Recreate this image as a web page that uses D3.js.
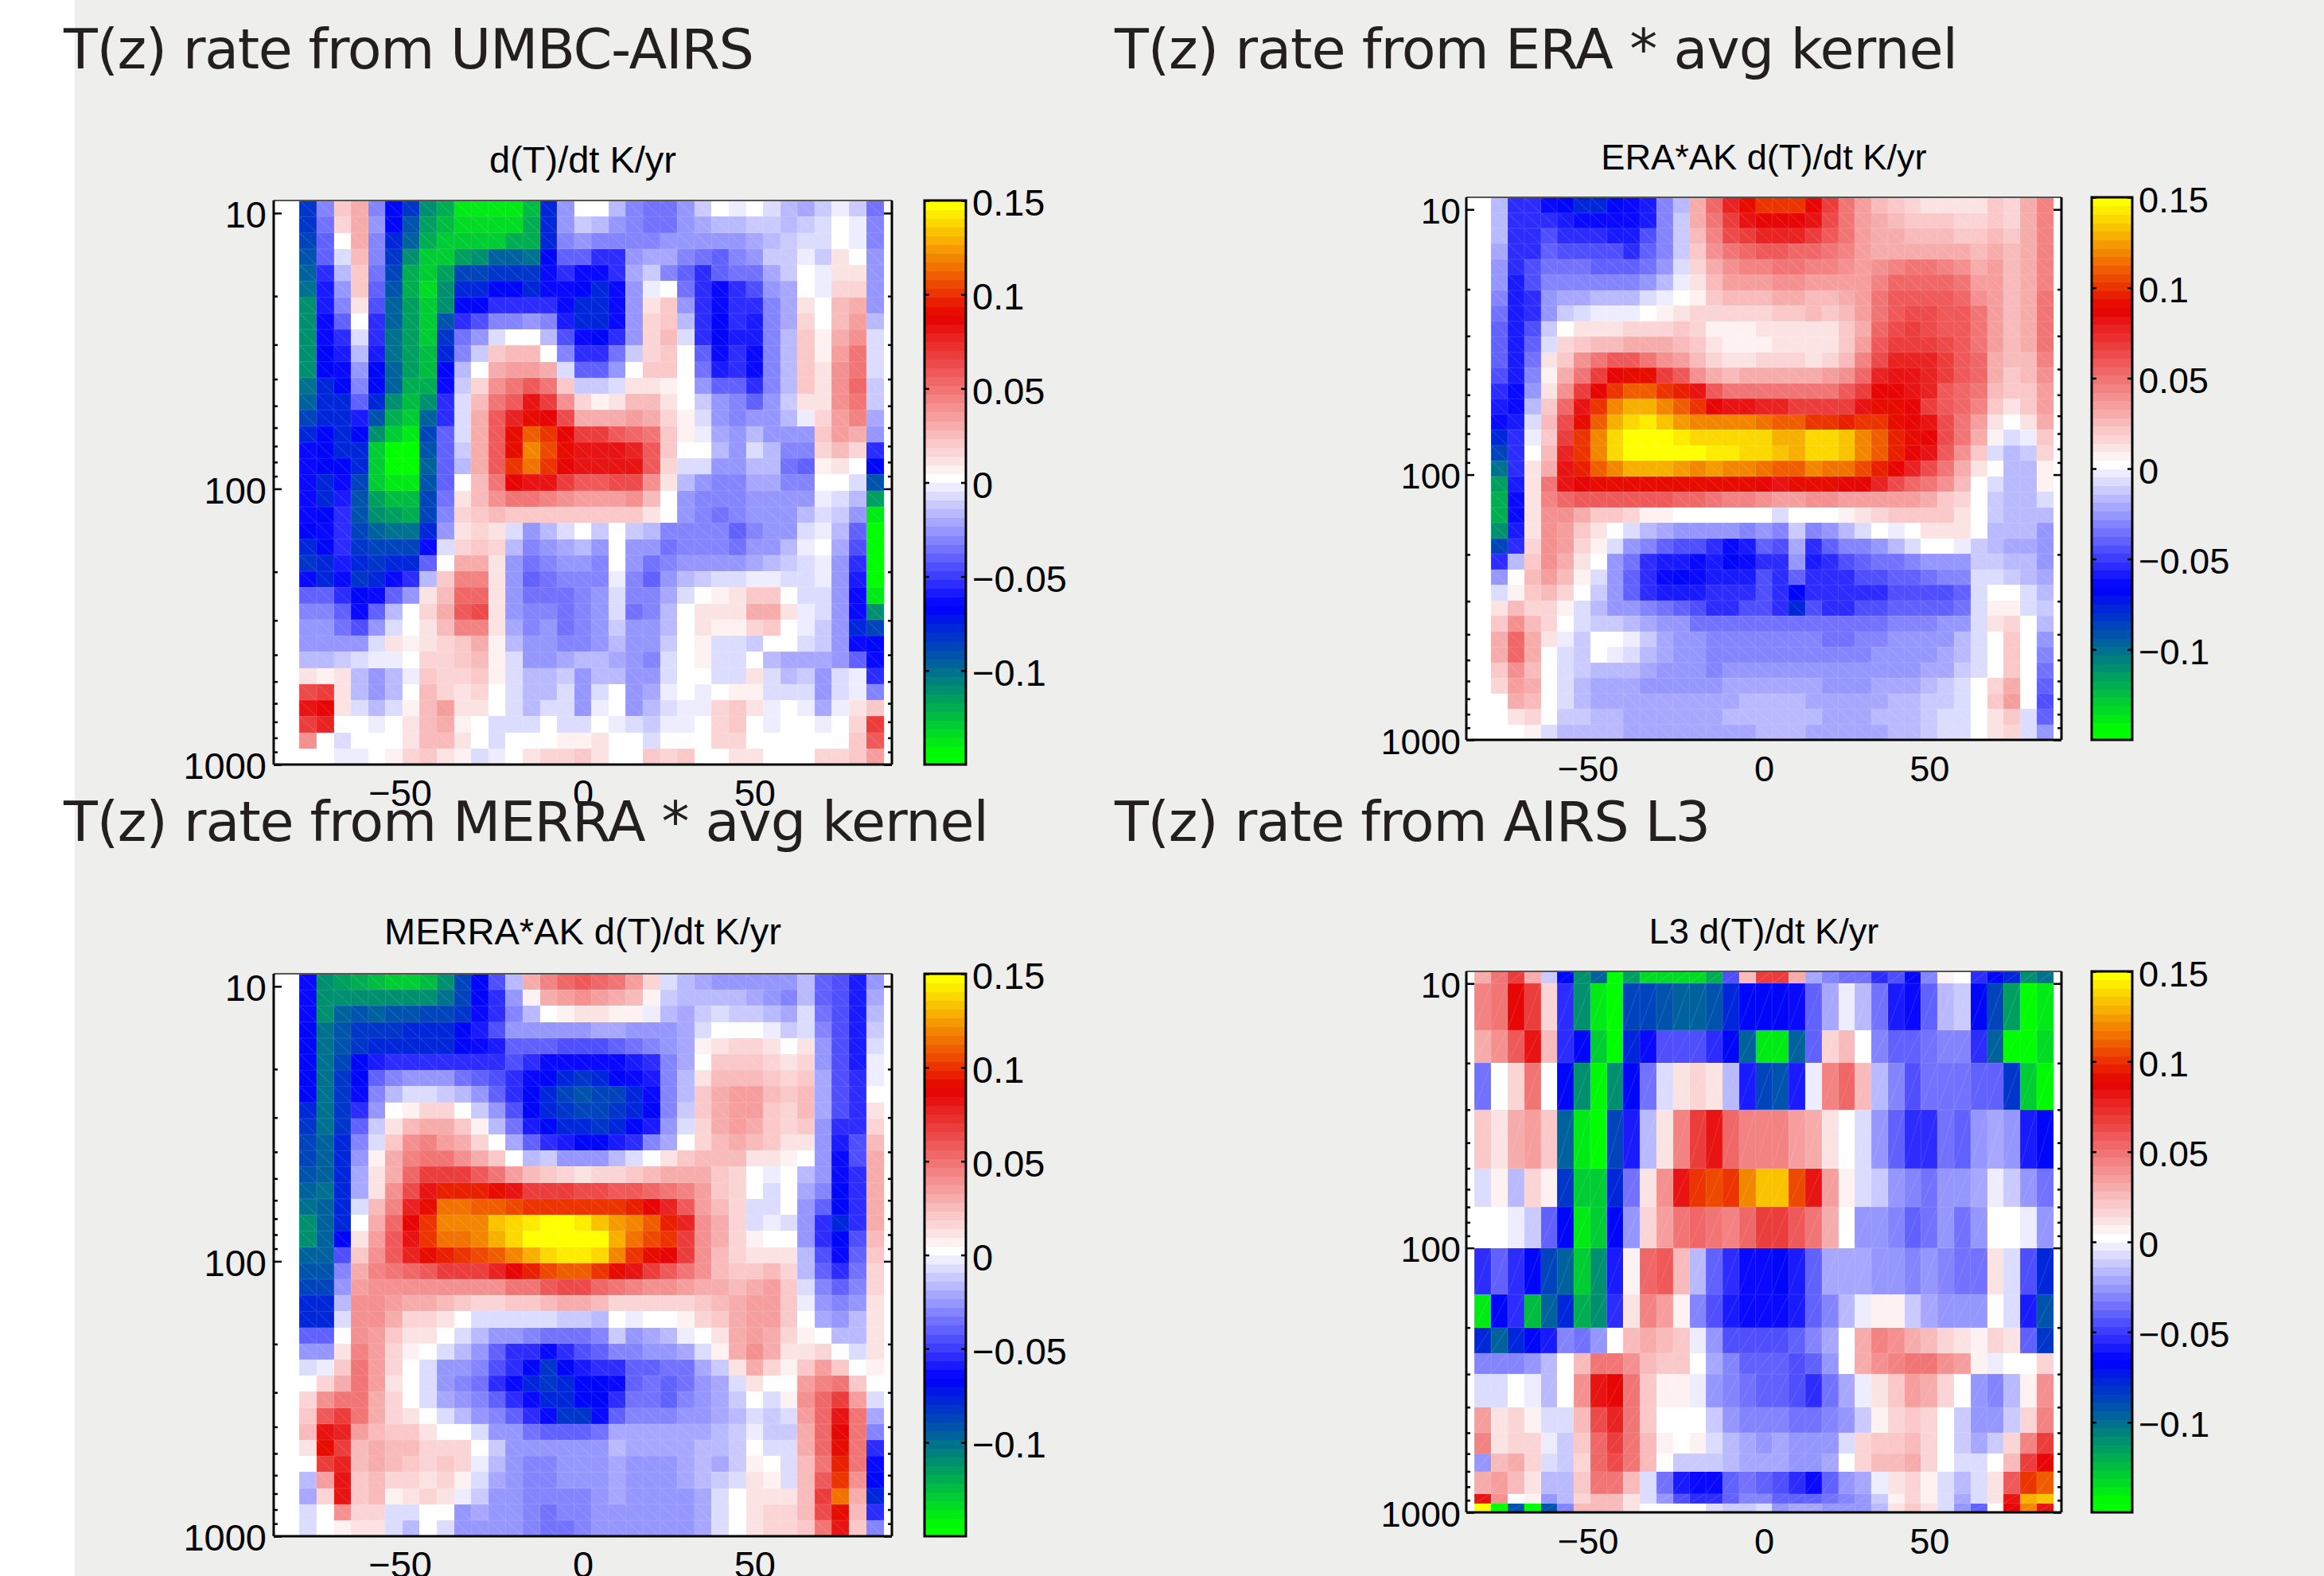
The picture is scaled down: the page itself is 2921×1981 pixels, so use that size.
<!DOCTYPE html>
<html><head><meta charset="utf-8">
<script src="https://cdn.jsdelivr.net/npm/d3@7/dist/d3.min.js"></script>
<style>html,body{margin:0;padding:0;background:#fff}svg{display:block}</style>
</head><body><svg id="c" width="2921" height="1981"></svg>
<script>
// All rates are in units of 0.01 K/yr. Rows run top (low pressure) to bottom.
const pressureEdges = [9,10.3,11.78,13.48,15.42,17.64,20.19,23.1,26.42,30.23,34.59,39.57,45.28,51.8,59.27,67.81,77.59,88.77,101.56,116.2,132.9,152.1,174,199.1,227.8,260.7,298.2,341.2,390.4,446.6,511,584.6,668.9,765.3,875.6,1000];
const pressureEdgesL3 = [9,10,15,20,30,50,70,100,150,200,250,300,400,500,600,700,850,925,1000];
const latEdges34 = [-82.5,-77.5,-72.5,-67.5,-62.5,-57.5,-52.5,-47.5,-42.5,-37.5,-32.5,-27.5,-22.5,-17.5,-12.5,-7.5,-2.5,2.5,7.5,12.5,17.5,22.5,27.5,32.5,37.5,42.5,47.5,52.5,57.5,62.5,67.5,72.5,77.5,82.5,87.5];
const latEdges35 = [-87.5].concat(latEdges34);
const xTicks = [-50,0,50];
const pMajor = [10,100,1000];
const pMinor = [20,30,40,50,60,70,80,90,200,300,400,500,600,700,800,900];
const barTicks = [-0.1,-0.05,0,0.05,0.1,0.15];
const barLabels = ["\u22120.1","\u22120.05","0","0.05","0.1","0.15"];

const umbcAirs = [
[-8.5,-4,2,3,-4,-7.5,-8.5,-11,-12,-14,-14,-14,-14,-12.5,-8,-3,0,0,-2,-4,-4.5,-4.5,-3,-1.5,0,-.5,0,-1,-2,-2.5,-1.5,-.5,-1.5,-4.5],
[-8.5,-4.5,1.5,3,-3.5,-7.5,-9.5,-11.5,-12.5,-13.5,-13.5,-13.5,-13.5,-12,-8,-3.5,-1.5,-2,-3,-4,-4.5,-4.5,-3.5,-2.5,-2,-2,-1.5,-1.5,-2,-1.5,-1,0,-.5,-4],
[-9,-5,0,3,-4,-8,-10,-12,-13,-13,-13,-13,-12,-12,-8,-4,-3,-4,-4,-4,-4,-3.5,-3.5,-3,-3.5,-3,-2.5,-2,-1.5,-1,-1,0,-.5,-4],
[-9.5,-5,-1,2.5,-4,-8.5,-11,-13,-13,-11.5,-11,-10,-10,-10.5,-7.5,-5,-5,-6,-6,-3,-2.5,-2.5,-4,-4.5,-5,-4,-3.5,-1.5,-1.5,-.5,-1.5,1,0,-3.5],
[-10,-6,-2,2,-4.5,-9,-12,-13,-11.5,-9,-9,-8.5,-8.5,-8.5,-7,-6,-7,-7,-6,-2.5,-1.5,-4,-5,-6,-5,-4.5,-4.5,-2.5,-1.5,0,-.5,1,1,-3.5],
[-10.5,-6.5,-3,2,-5,-9.5,-12,-13.5,-11,-8,-8,-7.5,-7.5,-8,-7,-7,-7.5,-8,-7,-3,-.5,0,-4.5,-6,-7,-6,-5.5,-3,-2.5,0,-.5,1.5,1.5,-3],
[-11,-6.5,-4,1,-5.5,-10,-11.5,-13,-11,-7.5,-7.5,-6,-6,-6,-6,-7,-8,-8,-7,-3.5,1,2,-3.5,-6,-7,-6,-6,-4,-2.5,1,0,2.5,3,-3],
[-11,-7,-5,0,-6,-10,-11.5,-13,-9.5,-6,-5.5,-4,-4,-3.5,-4,-6.5,-8,-8,-7,-3.5,1.5,2,-2,-6,-7.5,-6,-6.5,-4,-2.5,1.5,0,2.5,3.5,-2],
[-11,-7,-6,-1,-6,-10.5,-11.5,-13,-8.5,-4.5,-3,-1,0,0,-2,-5.5,-7,-7.5,-6,-3,1.5,2.5,-1,-6,-7.5,-6.5,-6.5,-4,-2,2,.5,3,4,-1],
[-11,-7.5,-6.5,-2,-6.5,-10.5,-11.5,-12.5,-8,-4,-1.5,2,2.5,2.5,0,-4,-6,-6,-4.5,-1.5,1.5,2,0,-5,-7,-6,-7,-4,-2,2,.5,3.5,5,-1],
[-11,-7.5,-7,-3,-7.5,-10,-11.5,-12.5,-7.5,-2,0,3,3.5,3.5,3,-1,-5,-5,-3,0,2,2,0,-4.5,-6.5,-6,-7,-4,-2,2,1,4,5,-1],
[-10.5,-8,-7.5,-4,-7.5,-10,-12,-12,-7,-1.5,1.5,4,5,6,5,2,-1.5,-1.5,-1,1,1,.5,0,-3,-5,-5,-6,-4,-2,2,1,4,5.5,-1.5],
[-10,-8,-8,-5,-8,-11,-12.5,-11,-6,-1,2.5,5,6,8,7,4,1.5,.5,1,2.5,2.5,1,0,-1.5,-3,-4,-5,-3.5,-1.5,1,1,4,5,-1.5],
[-9,-8,-8,-6.5,-9.5,-12,-13,-10,-6,-1,3,6,7.5,9,8.5,6.5,3,3,3,3.5,3,1.5,.5,-1,-3,-4,-3,-3,-2,-.5,1.5,3.5,4.5,-2.5],
[-8,-7.5,-8,-7.5,-11,-13,-14,-9,-5,-1,3,6,9,11,10,8.5,7,7,6,5.5,5,2,.5,-.5,-2.5,-3,-2,-3,-3,-3,2,3.5,3,-3],
[-7,-7.5,-8,-8,-13,-15,-15,-9.5,-5,-1.5,3,6,9,12,10.5,9,8,8,8,7.5,6,2,0,0,-2,-3,-1,-2,-4,-4,1.5,2.5,1.5,-6],
[-7,-7.5,-7.5,-8,-13,-15,-15,-10,-5,-2,3,6,10,11.5,10,8.5,8,8,8,8,6,1.5,-1,-1,-3,-3.5,-2,-2,-4.5,-5,.5,1,0,-7.5],
[-7,-8,-7,-9,-13,-14,-14,-9.5,-5,0,2.5,5,8.5,8,8,7,6,6,6.5,6.5,4,1,-2,-3,-4,-4,-2.5,-2.5,-4,-4,0,0,-1,-9.5],
[-7,-8,-6.5,-9.5,-11.5,-12.5,-12.5,-9,-4.5,1,2.5,4,5,5,4.5,4,3.5,3.5,3.5,4,2.5,0,-3,-4,-4,-4,-3,-3,-3,-3,-.5,-1,-2,-11.5],
[-7,-7.5,-6,-9.5,-11,-11.5,-12,-9,-4,1.5,2,2.5,2,2,2,2,2,2,2,2,1,0,-3.5,-4,-4.5,-4,-3.5,-3,-3,-2,-1,-1.5,-3.5,-14],
[-7.5,-7,-6,-9,-10,-10.5,-10.5,-8,-3,1,1.5,1,-1,-3,-2,-1,0,-1.5,0,-1.5,-2,-4,-4,-4,-4,-5,-4,-3,-3,-1,-.5,-2,-5,-15],
[-8,-7.5,-6,-8.5,-9,-9,-9,-7,-1,1.5,2,1.5,-2,-4,-3,-2.5,-2,-3,0,-3,-3.5,-4.5,-4,-4,-4,-4.5,-3.5,-3,-2,-.5,0,-2.5,-5.5,-15],
[-8.5,-8,-6.5,-8,-8.5,-8,-8,-5,0,3,3,1,-3,-4.5,-4,-3.5,-3.5,-4,0,-3.5,-4.5,-4,-3.5,-3,-3,-3,-2.5,-2,-1.5,-1,-.5,-3,-6,-15],
[-7,-8,-7,-8.5,-8,-7,-6,-2,2,4.5,4.5,1,-3,-5,-4.5,-4,-4,-4,-.5,-4,-5,-3,-2,-1.5,-1,-1,-.5,-.5,-1,-1,-.5,-3.5,-6.5,-15],
[-5,-5,-6,-7.5,-7,-5,-3,1,2.5,5.5,5.5,1,-3,-4.5,-4.5,-4.5,-4,-3.5,-1,-4,-4,-2.5,-1,0,.5,1,2,2,0,-1,-1,-3.5,-7,-14],
[-4,-4,-5,-7,-5,-2,0,1.5,3,6,6.5,1,-3,-4,-4,-4.5,-4,-3.5,-1,-4.5,-4,-2,0,1,1,1,3,3,1,-.5,-1,-3.5,-7,-11],
[-3.5,-3.5,-4.5,-5.5,-3,-1,0,1,2.5,4.5,4.5,1,-2.5,-4,-3.5,-4.5,-4,-3,-1.5,-3.5,-3,-2,0,1,.5,.5,1.5,2,0,-.5,-1.5,-3.5,-8,-9],
[-3,-3,-3,-3.5,-1,1,.5,1,1.5,2,3,.5,-2,-3.5,-3,-4,-4,-3,-2,-3.5,-3,-1.5,0,.5,-1,-1,-1.5,0,0,-1,-1.5,-3,-7,-7.5],
[-2,-2,-1.5,-1,-.5,-.5,0,1.5,1.5,2,2.5,.5,-1,-3,-3,-2.5,-2,-2,-2.5,-3,-4,-1,0,.5,-1,-1,0,-2,-2.5,-2.5,-2.5,-3,-5,-7],
[1,.5,1,-2,-3,-2,-.5,2,1.5,1.5,2,.5,-1,-2,-2,-1.5,-3.5,-2,-2,-3,-3,-1,0,0,-1,-1,1,-1,-2,-1.5,-3.5,-1,-.5,-6],
[6.5,7,1,-2,-3.5,-2,0,2.5,1.5,1,1.5,0,-1,-2,-2,-1,-3,-1,0,-3,-2.5,-.5,0,-.5,0,.5,.5,-1,-1,-1,-3.5,-1,-.5,-4],
[8,8.5,1,-1,-2,-1,.5,2.5,3.5,1,1,0,-1,-2,-1,-1,-3,-.5,0,-3,-2,-1,-.5,-.5,1.5,2,1,-.5,0,-.5,-2.5,-.5,1,2],
[7,7.5,0,0,-.5,0,1,2.5,3,.5,0,-1,-1,-1,0,-1,-1,0,-.5,-1,-1.5,-.5,-.5,0,1.5,2,0,-.5,0,0,-.5,0,1.5,7],
[4,0,-1,0,0,0,1,2.5,2.5,1,0,-1,0,0,0,.5,.5,1,0,0,-1,0,0,0,1.5,1.5,0,0,0,0,0,0,2,6],
[0,0,-.5,-.5,0,.5,1.5,2,1,.5,-1,-.5,0,1,1.5,1.5,2,1,0,0,2,1.5,2,0,0,1,1,0,0,0,1.5,1.5,2,3.5]
];

const eraAk = [
[-2,-6,-6,-7,-7.5,-8,-8,-7.5,-7,-6.5,-4,-2,3,5.5,7.5,9,10,10,10,8.5,7,5,3.5,2.5,2,1.5,1,1,1,1,2,1.5,3,4.5],
[-2,-6,-6,-6,-6.5,-7,-7,-7,-7,-6.5,-4,-1.5,3,5,7,8,8.5,8.5,8.5,8,6.5,5,3.5,3,2.5,2,2,2,1.5,1.5,2,1.5,3,4.5],
[-2,-6,-6,-5.5,-6,-6,-6,-6.5,-6.5,-5.5,-4,-1.5,2.5,4.5,6.5,7,7.5,7.5,7.5,7,6,5,3.5,3,3,2.5,2.5,2.5,2,2,2.5,2,3,4.5],
[-2.5,-6,-6,-5,-5.5,-5.5,-5.5,-5.5,-6,-5,-4,-1.5,2,4,5,5.5,6,6,5.5,5.5,5,4.5,3.5,3,3,3,3,3,3,2.5,3,2.5,3,4.5],
[-3,-6,-5.5,-4.5,-4.5,-4.5,-5,-5,-5,-4.5,-3.5,-1,1.5,3,4,4.5,4.5,5,5,4.5,4.5,4,3.5,4,4.5,5,5,4.5,4,3,3.5,2.5,3,4.5],
[-3.5,-6.5,-5.5,-4,-4,-4,-4,-4,-4,-3,-2,-.5,1,2.5,3.5,3.5,3.5,4,4,3.5,3.5,3.5,3.5,4.5,5.5,5.5,5.5,5.5,5,3.5,3.5,2.5,3,4.5],
[-4,-6.5,-6,-3,-2.5,-2.5,-2,-2,-2,-1,-.5,0,.5,2,2.5,2.5,2.5,3,3,2.5,2.5,3,3.5,5,6,6,6,6,5.5,4,3.5,2.5,3,5],
[-4.5,-6.5,-6,-3,-1.5,-1,-.5,-.5,-.5,0,.5,1,1.5,1.5,1.5,1.5,1.5,2,2,2.5,2,2.5,3.5,5,6,6.5,6.5,6,6,5,3.5,2.5,3,5],
[-5,-6.5,-5.5,-1.5,0,1,1,1,1.5,1.5,1.5,2,1.5,.5,.5,.5,1,1,1,1,1,2,3,5.5,6.5,7,6.5,6,6,5,3.5,2.5,3,5],
[-5,-6.5,-5,-1,1.5,2,2.5,2.5,3,3,3,2.5,2,1,.5,.5,.5,1,1,1,1,2,3.5,6,7,7,7,6.5,6,5,3.5,2.5,3,5],
[-5,-6.5,-4.5,1,2,4,5,6,6,5,4,3.5,2.5,1.5,1,1,1.5,1.5,1.5,1,1.5,2.5,4.5,6.5,7.5,7.5,7.5,7,6,5.5,3,2.5,2.5,4.5],
[-5.5,-6.5,-4,.5,3,5,7,8.5,9,9,7,6,4,3,2.5,3,3,3,3,3,3.5,4,5.5,7.5,8,8,7.5,7,6,5.5,3,2,2.5,4],
[-6,-7,-3,1,4,7,8.5,10,11,11,10,9.5,8,6,5,5,5,5,5,5,5,6,7,8.5,8.5,8,7.5,6,5.5,5,2.5,2,2,3.5],
[-6.5,-7,-2,2,5.5,8,10,12,13,13,12,11,10,8.5,8,8,7.5,7.5,7,7,7,7,8,9,9,8.5,7,6,5.5,4.5,2,1,2,3.5],
[-7,-6.5,-1,2.5,6.5,9,11,13,14,14.5,13.5,12.5,12,12,12,12,11.5,11,11,10,10,9.5,10,10,9,8.5,8,6.5,5,3.5,1,0,1,3],
[-8,-6,-.5,2,7,10,12,14,15,15,15,14.5,14,14,14,14,14,13,13,14,14,13.5,12,11,9.5,9,8.5,6.5,5,3,.5,-1,-.5,2],
[-9,-6,0,2.5,7.5,10,12,14,15,15,15,15,15,14.5,14.5,14,14,13.5,13,14,14,13.5,12,11,9.5,8.5,8,6,4,2,-1,-2,-1.5,1.5],
[-10.5,-6,1,3,8,9.5,11,12,13,13,13,12.5,12,12.5,12,12,11.5,11,11,12,11.5,11.5,10.5,9.5,8.5,7.5,6.5,5,3,1,0,-2,-2,.5],
[-11.5,-6.5,1,5,8,8.5,9,9,9,9,9,9,9,9,9,9,8.5,8,9,9,9,8.5,8.5,7.5,6.5,5.5,5,4,2.5,0,-1,-2,-2,.5],
[-12,-7,1,4.5,5.5,6,6,6,6,6,6,5.5,5.5,5,4.5,4.5,4,3.5,3.5,4,4,3.5,3.5,3.5,3.5,3.5,3,2,1.5,0,-1.5,-2,-2,-1],
[-12,-7,1,4,4,3,2,2,1.5,.5,.5,0,0,0,0,0,0,-1,0,0,0,.5,1,1.5,2,2,2,2,1,0,-1.5,-2,-2,-2],
[-11,-6.5,1,4,3.5,2,1,0,-1,-2,-2.5,-3,-3.5,-3.5,-3.5,-4,-3.5,-4,-1.5,-4,-3,-2,-1,0,-.5,0,1,1,1,0,-2,-2,-2,-3],
[-9,-6,1.5,4,3.5,1.5,.5,-1,-3,-4,-5,-5.5,-5.5,-6,-7,-6.5,-5,-5.5,-2.5,-6,-5,-4,-4,-3,-2,-1,0,0,-.5,-1.5,-2,-2.5,-2.5,-3.5],
[-6,-2,2,4,3,1,0,-3,-4.5,-6,-6.5,-6.5,-7,-6.5,-7.5,-7,-6,-6,-3,-6.5,-6,-5.5,-5,-4.5,-4.5,-4,-3.5,-3,-3,-1.5,-1.5,-2,-2,-3],
[-3.5,0,2.5,3.5,2.5,.5,-1,-3.5,-5,-6,-7,-7.5,-7,-6.5,-6.5,-6.5,-5.5,-6,-5,-6,-6,-6,-5.5,-5.5,-5,-5,-4.5,-4,-4,-1,-1,-1.5,-2,-2.5],
[-1,.5,2,2.5,1.5,0,-1.5,-3.5,-5,-6,-6.5,-6.5,-6.5,-6,-6,-6,-5.5,-6,-7.5,-6,-6,-6,-6,-6,-5.5,-5.5,-5.5,-5.5,-5,-1,0,0,-1,-2],
[1,2.5,1.5,1.5,.5,-1,-2,-3,-3.5,-4,-4.5,-5,-5.5,-6,-6,-5.5,-5.5,-6,-8,-5.5,-6,-6,-5.5,-5.5,-5,-5,-5,-5,-4.5,-1,.5,.5,-1,-1.5],
[2,4,2.5,1.5,0,-1,-1.5,-1.5,-2,-2.5,-3,-3.5,-4.5,-4.5,-4.5,-4.5,-4.5,-4.5,-4.5,-4.5,-4.5,-4.5,-4.5,-4.5,-4,-4,-4,-3.5,-3,-1,1,1.5,0,-2],
[3,5.5,3,1,-.5,-1.5,0,0,-.5,-1.5,-2.5,-3,-3.5,-4,-4,-4,-4,-4,-4,-4,-4.5,-4.5,-4,-4,-3.5,-3.5,-3.5,-3,-2,-1,0,2,0,-3],
[3,5.5,3,0,-1,-1.5,0,-.5,-1,-2,-2.5,-3,-3.5,-4,-4,-4,-4,-4,-4,-4,-4,-4,-4,-3.5,-3.5,-3,-3,-2.5,-2,-1,0,2,0,-4],
[2,4,2.5,0,-1,-1.5,-2,-2,-2,-2.5,-3,-3,-3.5,-4,-3.5,-3,-3,-3,-3,-3.5,-3.5,-3.5,-3.5,-3.5,-3,-3,-2.5,-2.5,-1.5,-1,0,2,0,-4.5],
[1.5,3.5,3,0,-1,-2,-2.5,-2.5,-2.5,-3,-3,-3,-3,-3,-2.5,-2.5,-2.5,-2.5,-2.5,-2.5,-3,-3,-3,-2.5,-2.5,-2.5,-2,-1.5,-1,0,1.5,3,0,-5],
[0,3,2.5,0,-1,-2,-2.5,-2.5,-2.5,-2.5,-2.5,-2.5,-2.5,-2.5,-2.5,-2,-2,-2,-2,-2.5,-2.5,-2.5,-2.5,-2.5,-2,-2,-1.5,-1.5,-1,0,2,3.5,0,-5.5],
[0,1,1.5,0,-1.5,-1.5,-2,-2,-2.5,-2.5,-2.5,-2.5,-2.5,-2.5,-2,-2,-2,-2,-2,-2,-2.5,-2.5,-2.5,-2,-2,-2,-1.5,-1,-1,0,1,2,-1,-5],
[0,0,.5,-1,-2,-2,-2,-2,-2.5,-2.5,-2.5,-2.5,-2.5,-2.5,-2.5,-2.5,-2,-2,-2,-2.5,-2.5,-2.5,-2.5,-2.5,-2,-2,-1.5,-1,-1,0,1,1.5,-1,-3]
];

const merraAk = [
[-7,-11,-11.5,-12,-12.5,-13,-13,-12.5,-11,-9,-7.5,-5.5,-2,3,4.5,5.5,6,5.5,5,3.5,1.5,-1,-2,-2.5,-3,-3,-3.5,-3,-3,-2,-5,-5.5,-6.5,-3],
[-7,-11,-11,-11,-11,-11,-11,-11,-10.5,-9,-7.5,-6,-3,.5,3,3.5,4,3.5,3,2.5,.5,-1.5,-2,-2,-2,-2,-2.5,-3,-4,-2,-5,-5.5,-6.5,-2.5],
[-7,-11,-10,-9.5,-10,-9.5,-9.5,-9,-9,-8.5,-7,-6,-4,-2,0,.5,1,1,.5,.5,-.5,-2,-2.5,-1.5,-1,-1.5,-1.5,-2,-2.5,-1,-4.5,-5.5,-6.5,-2],
[-7.5,-10.5,-9.5,-8.5,-8.5,-8.5,-8,-8,-8,-7.5,-6.5,-5.5,-3.5,-3,-3,-3,-3,-2.5,-2.5,-3,-3.5,-3.5,-2.5,-1,0,0,0,-.5,-1.5,-1,-4,-5.5,-6.5,-1.5],
[-7.5,-10.5,-9.5,-8.5,-8,-8,-8,-8,-8,-7.5,-7,-6.5,-5,-5,-5,-5.5,-5.5,-5.5,-5,-4.5,-4,-3,-2.5,.5,1,1.5,1.5,1,0,1,-3.5,-5.5,-6.5,-1],
[-7.5,-10.5,-9,-7.5,-6.5,-6,-6,-6,-6,-6,-6,-6,-5.5,-6,-7,-7,-7,-7,-7,-6.5,-6,-4,-2.5,0,2,2,2,1.5,1,1.5,-3,-5.5,-6.5,-.5],
[-7.5,-10.5,-8.5,-7.5,-5,-4,-3.5,-3,-3.5,-4.5,-5,-5.5,-6,-7,-7.5,-8,-8.5,-8,-7.5,-7,-6.5,-4,-2,1,2.5,2.5,2.5,2,1.5,2,-2.5,-5.5,-6,-.5],
[-7.5,-10.5,-8.5,-7,-4,-2,-1,-1,-1.5,-2,-3,-5,-6,-7.5,-8,-9,-9.5,-9,-9,-8,-7,-4,-2,2,3,3.5,3.5,2.5,2,2.5,-2.5,-5.5,-6,0],
[-8,-10.5,-8.5,-6,-3,0,.5,1.5,1.5,0,-1.5,-3.5,-5.5,-7.5,-8,-8.5,-9,-9,-8.5,-8,-7.5,-4,-1.5,2,3,3.5,3.5,2,1.5,2.5,-2.5,-5.5,-6,1],
[-8.5,-10.5,-8.5,-5,-1.5,1,2.5,3,3,2,.5,-2,-4.5,-6.5,-7.5,-8,-8,-8.5,-8,-7.5,-6.5,-3.5,-1,1.5,3,3.5,3,2,1.5,2,-3,-6,-6,1.5],
[-9,-10,-8,-4,-1,2,4,4.5,3.5,3,1.5,0,-2.5,-5,-6,-6.5,-7.5,-7.5,-6.5,-6,-4,-2.5,0,1.5,2.5,3,2.5,2,1,1,-3,-6.5,-5.5,2.5],
[-9,-10,-8,-3.5,.5,3,4.5,5,5,4,3,2,0,-2,-1.5,-3,-3.5,-3,-2,-1,0,1,2,2.5,2.5,2.5,1,1,.5,0,-3,-7,-5.5,3],
[-9.5,-10,-8,-2.5,1,3,5.5,7,7,7,6,5,3.5,2.5,2,1.5,1,1.5,1.5,2,2.5,3,3,3,2,1.5,0,-.5,0,-2,-3.5,-7,-6,3],
[-10,-10.5,-8,-2.5,1,4,6.5,8,9.5,9.5,9.5,9,8,7,7,7,6.5,6.5,6,6,5.5,5,4.5,3.5,2,1.5,0,-1,0,-2.5,-4,-7.5,-6,3],
[-10.5,-10,-8,-1,2.5,4.5,7.5,9,11.5,11.5,11,11,10.5,10,10,10,10,10,10,9.5,8.5,7.5,6,3.5,2.5,1.5,-1,-1,0,-3,-5,-7.5,-6,3],
[-11,-10,-8,0,3,5.5,8.5,10,12,12,12,13.5,14,14.5,15,15,14.5,13.5,12.5,12,11,9.5,7.5,4,3,1.5,-1,-.5,-1,-3.5,-6,-8,-6,3],
[-11,-10,-7.5,1,3.5,6,8,10,11.5,11.5,12,13,14,15,15,15,15,15,13,11.5,10.5,10,7,4,3,1.5,.5,0,0,-3,-6,-7.5,-5.5,2.5],
[-10,-10,-5.5,2,4,6,7.5,9,9.5,10,10.5,11,12,13,14,14.5,14.5,14,12,10,9,8.5,7,4,2.5,1.5,1,1,1,-2,-5.5,-7,-5,2],
[-9.5,-9.5,-4,3,4.5,5,5.5,6,7,7,7,7.5,8.5,9.5,10.5,11,11,10,9,8,7,6,5,4,2.5,2,2,2.5,1.5,-2,-5,-6,-4.5,1.5],
[-9,-9,-3,3.5,4,4,4,4,4,4,4,4,5,5,6,6.5,6.5,5.5,5,4.5,4,4,3.5,3,3,2.5,3,3.5,2,-1,-4,-5,-4,1.5],
[-8,-8,-2,4,4,3.5,3,3,2.5,2,1.5,1.5,2,2,2.5,3,3,2.5,1.5,1.5,1.5,1.5,1.5,2,2.5,3,3.5,3.5,2,-.5,-3,-4,-3,1],
[-8,-8,-1,4,4,3,1.5,1.5,1,0,-1,-1,-1,-1,-1,-1.5,-1.5,-2,0,-.5,0,0,.5,1.5,2,3,3.5,3.5,2,0,-2.5,-3.5,-2,1],
[-5,-5,0,4,3.5,2,1,1,0,-1,-2,-3,-3.5,-4,-4.5,-4.5,-4.5,-4,-1.5,-3.5,-2.5,-2,-.5,0,1,3,3.5,3,1.5,.5,0,-2,-2,1],
[-3,-3,1,4.5,3.5,1.5,.5,0,-1,-2,-3,-5,-6,-6,-7,-6,-5.5,-5,-4,-4,-3.5,-3,-2.5,-1,.5,3,4,3,1,1,1.5,0,-1,1],
[-1,-.5,2,5,3.5,1.5,0,-1,-3,-3.5,-4,-5.5,-6,-7.5,-8.5,-7.5,-6.5,-6,-6,-5,-5,-4.5,-4.5,-2.5,-1.5,1,3,1.5,.5,2,3.5,2,0,.5],
[0,1.5,3,5,3.5,1,0,-1,-3.5,-4,-4.5,-6,-7,-8,-8.5,-8,-7.5,-7.5,-7,-5,-4.5,-5,-4.5,-3,-2.5,-1,1,0,0,3.5,4.5,5,2,0],
[1.5,4,5,5,3,1.5,0,-1,-2.5,-3.5,-4,-5,-6,-7,-8,-8,-7.5,-7.5,-6,-4.5,-4.5,-5,-4,-3,-2.5,-1.5,0,-1,.5,4,5.5,7,3.5,-1],
[2,6,7,5,3,1.5,1,0,-1,-2,-3,-4,-5,-6,-7,-8.5,-8.5,-7,-5,-4,-4,-4,-3.5,-3,-2.5,-2,-1,-1.5,-1,3.5,5.5,8,5,-2.5],
[2.5,8,7.5,3.5,2.5,2,2,1,0,0,-1,-3,-3.5,-4.5,-5,-5,-5,-4.5,-2.5,-2.5,-2.5,-2.5,-2.5,-2.5,-2,-1.5,-.5,-1.5,-1.5,3,5.5,8.5,5,-4],
[1,9,7,2.5,3,2.5,2.5,1.5,1.5,1.5,0,-1.5,-3,-3.5,-3.5,-3.5,-3.5,-3,-2,-2.5,-2.5,-2.5,-2.5,-2,-2,-1.5,0,-1,-1,3,5.5,9,5,-6],
[0,7,7.5,2.5,3,2.5,2,1.5,2,1.5,-.5,-2,-3,-4,-4,-3.5,-3.5,-3,-2.5,-3,-3,-3,-2.5,-2,-2.5,-1.5,.5,0,-1,2.5,5,9.5,5,-7],
[-2,3.5,8,2,2.5,1.5,1.5,1,1.5,.5,-1,-2.5,-3,-4,-4,-3.5,-3.5,-3,-2.5,-3,-3,-3,-2.5,-2,-1.5,-1,1,.5,-1,2.5,6,10,4,-7.5],
[-2.5,1.5,8,2,2.5,.5,1,1.5,1,-.5,-1.5,-3,-3,-4,-4,-4,-4,-3,-2.5,-3,-3,-3,-3,-2.5,-1,0,1,1,1,2.5,7,11.5,3,-8],
[-1,0,4,1.5,1.5,-1,-1,0,0,-3,-2.5,-3.5,-3.5,-4,-4.5,-4,-4,-3.5,-3,-3,-3.5,-3,-3,-2.5,-1,0,1,1.5,1.5,2.5,6.5,9,2.5,-6],
[-1,0,.5,1,1,-1,-2,0,-1,-3,-3,-3.5,-3.5,-4,-4.5,-4.5,-4,-3.5,-3.5,-3.5,-3.5,-3,-3,-2.5,-1,0,1,1.5,1.5,2,5,8,2,-4]
];

const airsL3 = [
[3,5,7,3,-1.5,-7.5,-11,-10,-15,-11.5,-13.5,-13.5,-13.5,-13.5,-12,-5.5,2.5,7,7,3,-2.5,-4,-4.5,-4.5,-6,-5.5,-7.5,-4,.5,0,-6,-7.5,-8,-11,-10.5],
[4.5,5,8.5,7,1.5,-6,-11,-14,-15,-9,-9,-9.5,-10,-10,-9.5,-8,-7.5,-7.5,-7.5,-7,-5,-2.5,-.5,-2,-4.5,-6.5,-7,-5,-2,-1.5,-7.5,-9,-11.5,-15,-14],
[3,4,6,8,2.5,-6,-7.5,-13,-15,-8,-7,-5.5,-5.5,-5.5,-6,-7.5,-10,-14,-14,-10,-5,1.5,2.5,0,-4,-5,-5,-4.5,-4,-4,-6,-10,-15,-15,-13.5],
[-4.5,0,1.5,5,0,-7.5,-11,-14.5,-11,-7.5,-4.5,-1,1,1.5,1,-2,-6.5,-9,-9.5,-6.5,-.5,4.5,5.5,2.5,-2,-4,-5.5,-4.5,-4.5,-4.5,-5,-5,-8.5,-13,-14.5],
[2,1,3,3.5,2,-10,-14,-15,-9,-6.5,-2,1,4.5,7,8,5.5,4.5,4.5,4.5,3.5,3,1,0,-1,-3,-5,-6,-6,-4.5,-5,-3,-2.5,-3,-6.5,-7.5],
[-1,.5,-2,1.5,.5,-8.5,-13,-13,-8,-4.5,1,4,8,10,10.5,10,12,13.5,13.5,10.5,8,3.5,.5,-1,-1.5,-3,-4,-4.5,-3.5,-3.5,-2.5,-.5,-1.5,-3,-4.5],
[0,0,-.5,-1.5,-5,-7.5,-14,-13,-7.5,-3,1.5,3.5,5,5.5,5,4.5,5.5,7,7,6,5,3,0,-3,-3.5,-4,-5,-4.5,-3.5,-4.5,-3.5,0,0,-.5,-3],
[-6,-5,-6,-7.5,-9,-10,-13,-11,-6.5,.5,5.5,6,2.5,-2,-5,-6,-7,-7,-7.5,-6.5,-5,-2.5,-2.5,-2.5,-3,-3.5,-4,-3.5,-4,-4.5,-4.5,1,-1,-5.5,-8],
[-14,-7.5,-6,-12.5,-10,-8,-12,-11,-6,1,4.5,3.5,.5,-4,-5.5,-6.5,-7,-7,-7,-6.5,-5,-4,-2,-.5,.5,.5,-1.5,-2.5,-3,-3,-3.5,0,-1,-6.5,-9.5],
[-8,-10,-8,-7.5,-6.5,-4,-4.5,-3,0,2.5,3,2.5,2,-.5,-3,-5.5,-5.5,-5.5,-5.5,-5,-4,-2.5,0,3,4.5,4,3,2.5,1.5,1,.5,1.5,1,-5,-8.5],
[-4,-4,-4,-3.5,-2,0,2.5,5,5,4,2.5,2,2,0,-2.5,-4,-5,-5,-5,-5.5,-5,-3.5,0,3,4,4.5,5,5,4,3.5,.5,-.5,0,0,1.5],
[-1,-1,0,-.5,-2,0,4,8,8.5,5,2,.5,.5,-.5,-3,-4,-4.5,-5,-5,-5.5,-6,-4.5,-2.5,-.5,1,2,3.5,3,1.5,0,-3,-4,-2,.5,4],
[3.5,1,1.5,.5,-1,-1,2.5,6.5,7.5,5,2,0,0,0,-1.5,-3.5,-4,-4,-4,-4.5,-4.5,-4,-3,-1.5,.5,1.5,2,1.5,0,-1.5,-3,-3,-1.5,1.5,4.5],
[4.5,1,1.5,1.5,-.5,-1.5,2,5.5,7,5,2.5,.5,0,.5,-1,-2,-2.5,-3,-2.5,-3.5,-3.5,-3,-1,1.5,2,2,2.5,1.5,0,-1.5,-2.5,-1.5,1.5,4.5,7],
[-3,2.5,3,1.5,-1,-1.5,1.5,5.5,6.5,5,2.5,0,-1.5,-1.5,-1.5,-2,-2.5,-2.5,-2.5,-3.5,-3.5,-2.5,0,1.5,2.5,2.5,3,1.5,0,-1,-1,0,2.5,7,8.5],
[3,3.5,2.5,1,-2,-2,2,5,5,2.5,-1,-4.5,-6.5,-7,-7,-5,-4.5,-5,-5.5,-6,-7,-5,-3.5,-2.5,-.5,1,1.5,.5,-1,-2,-1,1,6,10,11],
[8,4,0,.5,-3,-2,1.5,2.5,2.5,1,-1,-3.5,-5.5,-6,-6,-5,-4,-4,-5,-5,-5,-4.5,-4,-3.5,-1.5,.5,1.5,.5,-1,-2.5,-1,1,8,13,13.5],
[15,-15,-9.5,-15,-9.5,-4,2.5,2.5,2.5,1,0,0,0,0,-1,-1.5,-1.5,-1,-3,-2.5,-2.5,-3,-3.5,-3.5,-2,1,2,1,-1,-3,-5,0,8.5,12,8]
];

// Layout, kept apart from the values.
const panels = [
 {title:"T(z) rate from UMBC-AIRS", tx:80, ty:86, tw:868, sub:"d(T)/dt K/yr", subDy:35, fs:47, pad:9, data:umbcAirs, rows:pressureEdges, cols:latEdges34, l:344,r:1121,t:252,b:961, cl:1162,cr:1214, diag:"\\"},
 {title:"T(z) rate from ERA * avg kernel", tx:1401, ty:86, tw:1060, sub:"ERA*AK d(T)/dt K/yr", subDy:35, fs:45.2, pad:7, data:eraAk, rows:pressureEdges, cols:latEdges34, l:1843,r:2591,t:248,b:930, cl:2629,cr:2680, diag:"\\"},
 {title:"T(z) rate from MERRA * avg kernel", tx:80, ty:1057, tw:1163, sub:"MERRA*AK d(T)/dt K/yr", subDy:37, fs:47, pad:9, data:merraAk, rows:pressureEdges, cols:latEdges34, l:344,r:1121,t:1224,b:1931, cl:1162,cr:1214, diag:"\\"},
 {title:"T(z) rate from AIRS L3", tx:1401, ty:1057, tw:749, sub:"L3 d(T)/dt K/yr", subDy:35, fs:45.2, pad:7, data:airsL3, rows:pressureEdgesL3, cols:latEdges35, l:1843,r:2591,t:1221,b:1901, cl:2629,cr:2680, diag:"/"}
];

const BG = "#eeeeed";
const svg = d3.select("#c");
svg.append("rect").attr("width",2921).attr("height",1981).attr("fill","#fff");
svg.append("rect").attr("x",94).attr("width",2827).attr("height",1981).attr("fill",BG);

// Colour map: white at 0, blue at -0.068, green at -0.147, red at 0.086, yellow at the top band; 64 flat bands.
const ramp = d3.scaleLinear()
  .domain([-14.7,-6.8,0,8.64,14.5])
  .range(["#00ff00","#0000ff","#ffffff","#e60000","#ffff00"])
  .clamp(true);
const bandCount = 64;
const bandSize = 30/bandCount;
const bands = d3.range(bandCount).map(i=>ramp(-15+i*bandSize));
const colour = d3.scaleQuantize().domain([-15,15]).range(bands);
// Calibration of the by-eye readings of the blue half against the colour bar.
const calibrate = d3.scaleLinear().domain([-15,-9,-5,0,15]).range([-15,-8.7,-4,0,15]);

const FONT = "'Liberation Sans',Arial,sans-serif";

panels.forEach(p=>{
  const g = svg.append("g");
  const x = d3.scaleLinear().domain([-90,90]).range([p.l,p.r]);
  const y = d3.scaleLog().domain([9,1000]).range([p.t,p.b]);
  g.append("rect").attr("x",p.l).attr("y",p.t).attr("width",p.r-p.l).attr("height",p.b-p.t).attr("fill","#fff");

  const cells = [];
  p.data.forEach((row,i)=>row.forEach((v,j)=>cells.push({v:calibrate(v),
     x0:x(p.cols[j]),x1:x(p.cols[j+1]),y0:y(p.rows[i]),y1:y(p.rows[i+1])})));
  // x ticks lie under the cells, as in the original
  const axB = g.append("g").attr("transform",`translate(0,${p.b})`).call(d3.axisBottom(x).tickValues(xTicks).tickSizeInner(-10).tickSizeOuter(0).tickPadding(20).tickFormat(d=>d<0?"\u2212"+(-d):d));
  axB.select(".domain").remove();
  axB.selectAll("line").attr("stroke","#444").attr("stroke-width",2);
  axB.selectAll("text").attr("font-family",FONT).attr("font-size",p.fs).attr("fill","#000")
     .attr("y",52).attr("dy",null).attr("dx",d=>d<0?"-0.3em":"0");

  g.append("g").attr("shape-rendering","crispEdges").selectAll("rect").data(cells).join("rect")
    .attr("x",d=>d.x0).attr("y",d=>d.y0).attr("width",d=>d.x1-d.x0+0.5).attr("height",d=>d.y1-d.y0+0.5)
    .attr("fill",d=>colour(d.v));
  // faint facet seams of the printed surface
  const seams = d3.path();
  cells.forEach(c=>{
    seams.moveTo(c.x0,c.y1); seams.lineTo(c.x0,c.y0); seams.lineTo(c.x1,c.y0);
    if(p.diag==="\\"){seams.moveTo(c.x0,c.y0); seams.lineTo(c.x1,c.y1);}
    else {seams.moveTo(c.x0,c.y1); seams.lineTo(c.x1,c.y0);}
  });
  g.append("path").attr("d",seams.toString()).attr("fill","none").attr("stroke","#fff").attr("stroke-opacity",0.11).attr("stroke-width",1.2);

  // y axes with major and minor log ticks, left and right
  const major = d3.axisLeft(y).tickValues(pMajor).tickSizeInner(-10).tickSizeOuter(0).tickPadding(p.pad).tickFormat(d3.format("d"));
  const axL = g.append("g").attr("transform",`translate(${p.l},0)`).call(major);
  axL.select(".domain").remove();
  axL.selectAll("line").attr("stroke","#000").attr("stroke-width",2.5);
  axL.selectAll("text").attr("font-family",FONT).attr("font-size",p.fs).attr("fill","#000").attr("dy","0.38em");
  const minorL = g.append("g").attr("transform",`translate(${p.l},0)`).call(d3.axisLeft(y).tickValues(pMinor).tickSizeInner(-5).tickSizeOuter(0).tickFormat(""));
  minorL.select(".domain").remove(); minorL.selectAll("line").attr("stroke","#000").attr("stroke-width",2.5);
  const axR = g.append("g").attr("transform",`translate(${p.r},0)`).call(d3.axisRight(y).tickValues(pMajor).tickSizeInner(-10).tickSizeOuter(0).tickFormat(""));
  axR.select(".domain").remove(); axR.selectAll("line").attr("stroke","#000").attr("stroke-width",2.5);
  const minorR = g.append("g").attr("transform",`translate(${p.r},0)`).call(d3.axisRight(y).tickValues(pMinor).tickSizeInner(-5).tickSizeOuter(0).tickFormat(""));
  minorR.select(".domain").remove(); minorR.selectAll("line").attr("stroke","#000").attr("stroke-width",2.5);

  // frame
  g.append("line").attr("x1",p.l).attr("x2",p.r).attr("y1",p.t).attr("y2",p.t).attr("stroke","#555").attr("stroke-width",2);
  [[p.l,p.t,p.l,p.b],[p.r,p.t,p.r,p.b],[p.l,p.b,p.r,p.b]].forEach(s=>
    g.append("line").attr("x1",s[0]).attr("y1",s[1]).attr("x2",s[2]).attr("y2",s[3]).attr("stroke","#000").attr("stroke-width",3));

  // colour bar
  const yc = d3.scaleLinear().domain([-0.15,0.15]).range([p.b,p.t]);
  g.append("g").attr("shape-rendering","crispEdges").selectAll("rect").data(bands).join("rect")
    .attr("x",p.cl).attr("width",p.cr-p.cl)
    .attr("y",(d,i)=>yc((-15+(i+1)*bandSize)/100)).attr("height",(p.b-p.t)/bandCount+0.6).attr("fill",d=>d);
  const cR = g.append("g").attr("transform",`translate(${p.cr},0)`).call(d3.axisRight(yc).tickValues(barTicks).tickSizeInner(-6).tickSizeOuter(0).tickPadding(8).tickFormat((d,i)=>barLabels[i]));
  cR.select(".domain").remove(); cR.selectAll("line").attr("stroke","#000").attr("stroke-width",2.5);
  cR.selectAll("text").attr("font-family",FONT).attr("font-size",p.fs).attr("fill","#000").attr("dy","0.4em");
  const cL = g.append("g").attr("transform",`translate(${p.cl},0)`).call(d3.axisLeft(yc).tickValues(barTicks).tickSizeInner(-6).tickSizeOuter(0).tickFormat(""));
  cL.select(".domain").remove(); cL.selectAll("line").attr("stroke","#000").attr("stroke-width",2.5);
  g.append("rect").attr("x",p.cl).attr("y",p.t).attr("width",p.cr-p.cl).attr("height",p.b-p.t).attr("fill","none").attr("stroke","#000").attr("stroke-width",3);

  // subtitle and heading
  g.append("text").attr("x",(p.l+p.r)/2).attr("y",p.t-p.subDy).attr("text-anchor","middle").attr("font-family",FONT).attr("font-size",p.fs).attr("fill","#000").text(p.sub);
  g.append("text").attr("x",p.tx).attr("y",p.ty).attr("font-family","'DejaVu Sans',sans-serif").attr("font-size",70).attr("fill","#231f20")
   .attr("textLength",p.tw).attr("lengthAdjust","spacing").text(p.title);
});
</script></body></html>
